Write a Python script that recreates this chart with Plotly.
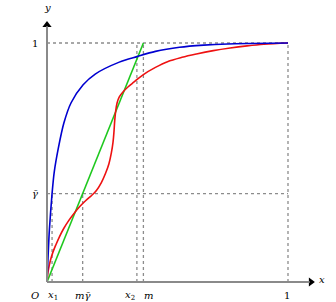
import plotly.graph_objects as go

# key values
m = 0.4
gamma_bar = 0.37
x1 = 0.021
x2 = 0.373

blue_x = [0, 0.005, 0.01, 0.021, 0.03, 0.047, 0.07, 0.1, 0.15, 0.2, 0.3, 0.373, 0.45, 0.55, 0.65, 0.75, 0.85, 1.0]
blue_y = [0, 0.12, 0.22, 0.37, 0.46, 0.56, 0.665, 0.75, 0.825, 0.87, 0.92, 0.943, 0.965, 0.982, 0.991, 0.996, 0.998, 1.0]

red_x = [0, 0.004, 0.009, 0.016, 0.025, 0.037, 0.052, 0.07, 0.09, 0.112, 0.135, 0.16, 0.185, 0.205,
         0.225, 0.243, 0.257, 0.267, 0.274, 0.278, 0.281, 0.285, 0.291, 0.3, 0.317, 0.337, 0.36,
         0.4, 0.45, 0.5, 0.56, 0.62, 0.69, 0.76, 0.83, 0.9, 1.0]
red_y = [0, 0.04, 0.068, 0.097, 0.126, 0.156, 0.19, 0.225, 0.257, 0.287, 0.315, 0.34, 0.362, 0.383,
         0.415, 0.455, 0.495, 0.54, 0.585, 0.63, 0.675, 0.715, 0.75, 0.775, 0.797, 0.817, 0.836,
         0.868, 0.898, 0.922, 0.94, 0.954, 0.968, 0.979, 0.988, 0.995, 1.0]

green_x = [0, m]
green_y = [0, 1]

x_tick_vals = [x1, m * gamma_bar, x2, m, 1.0]
x_tick_text = ["<i>x</i><sub>1</sub>", "<i>m</i><i>γ̄</i>", "<i>x</i><sub>2</sub>", "<i>m</i>", "1"]
y_tick_vals = [1.0, gamma_bar]
y_tick_text = ["1", "<i>γ̄</i>"]

W, H = 336, 302
px_x0, px_x1 = 47, 288
px_y0, px_y1 = 282, 43
sx = px_x1 - px_x0
sy = px_y0 - px_y1
xr = [-px_x0 / sx, (W - px_x0) / sx]
yr = [1 - (H - px_y1) / sy, 1 + px_y1 / sy]

fig = go.Figure()

dot = dict(color="#8c8c8c", width=1.3, dash="dot")
guides = [
    ((0, 1), (1, 1)),
    ((1, 0), (1, 1)),
    ((0, gamma_bar), (1, gamma_bar)),
    ((x1, 0), (x1, gamma_bar)),
    ((m * gamma_bar, 0), (m * gamma_bar, gamma_bar)),
    ((x2, 0), (x2, 1)),
    ((m, 0), (m, 1)),
]
for (a, b) in guides:
    fig.add_shape(type="line", x0=a[0], y0=a[1], x1=b[0], y1=b[1], line=dot, layer="below")

axcol = "#8a8a8a"
fig.add_shape(type="line", x0=0, y0=0, x1=1.09, y1=0, line=dict(color=axcol, width=2))
fig.add_shape(type="line", x0=0, y0=0, x1=0, y1=1.07, line=dict(color=axcol, width=2))

fig.add_trace(go.Scatter(x=[1.095], y=[0], mode="markers",
                         marker=dict(symbol="triangle-right", size=8, color="black"),
                         hoverinfo="skip"))
fig.add_trace(go.Scatter(x=[0], y=[1.075], mode="markers",
                         marker=dict(symbol="triangle-up", size=8, color="black"),
                         hoverinfo="skip"))

fig.add_trace(go.Scatter(x=green_x, y=green_y, mode="lines",
                         line=dict(color="#1ec81e", width=1.6)))
fig.add_trace(go.Scatter(x=red_x, y=red_y, mode="lines",
                         line=dict(color="#ee1111", width=1.6, shape="spline", smoothing=1.0)))
fig.add_trace(go.Scatter(x=blue_x, y=blue_y, mode="lines",
                         line=dict(color="#0000d0", width=1.6, shape="spline", smoothing=0.8)))

font = dict(family="DejaVu Serif", size=10, color="black")
label_y = yr[0] + (H - 295) / sy
x_label_px = [53, 82, 130, 148, 287]
for v, t, p in zip(x_tick_vals, x_tick_text, x_label_px):
    fig.add_annotation(x=(p - px_x0) / sx, y=label_y, text=t, showarrow=False, font=font)
fig.add_annotation(x=(35 - px_x0) / sx, y=label_y, text="<i>O</i>", showarrow=False, font=font)
for v, t in zip(y_tick_vals, y_tick_text):
    fig.add_annotation(x=(35 - px_x0) / sx, y=v, text=t, showarrow=False, font=font)
fig.add_annotation(x=(322 - px_x0) / sx, y=0.01, text="<i>x</i>", showarrow=False, font=font)
fig.add_annotation(x=0, y=(px_y0 - 7) / sy, text="<i>y</i>", showarrow=False, font=font)

fig.update_layout(
    width=W, height=H,
    margin=dict(l=0, r=0, t=0, b=0),
    paper_bgcolor="white", plot_bgcolor="white",
    showlegend=False,
    xaxis=dict(range=xr, visible=False, fixedrange=True),
    yaxis=dict(range=yr, visible=False, fixedrange=True),
)

fig.write_html("out.html", config={"displayModeBar": False},
               post_script="document.body.style.margin='0';document.body.style.overflow='hidden';")
